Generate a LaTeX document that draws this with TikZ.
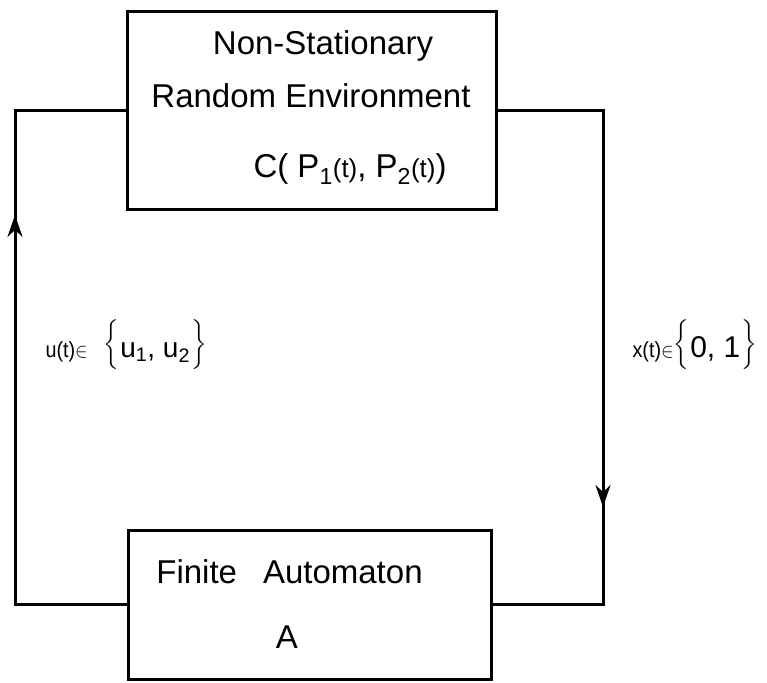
\documentclass[tikz,border=0pt]{standalone}
\usepackage{fontspec}
\setmainfont{Liberation Sans}
\usepackage{amsmath}
\usetikzlibrary{arrows.meta}
\newcommand\lbr{\raisebox{7pt}{$\left\{\rule[-21.5pt]{0pt}{54pt}\right.$}}
\newcommand\rbr{\raisebox{7pt}{$\left.\rule[-21.5pt]{0pt}{54pt}\right\}$}}
\begin{document}
\begin{tikzpicture}[x=1pt,y=-1pt,line width=3pt,
  box/.style={draw,rectangle,inner sep=0pt,line width=3pt},
  txt/.style={font=\fontsize{33}{38}\selectfont,inner sep=0pt,anchor=base},
  lbl/.style={font=\fontsize{22}{26}\selectfont,inner sep=0pt,anchor=base west},
  arr/.style={-{Stealth[length=22pt,width=15pt]}}]
\useasboundingbox (0,0) rectangle (767,682);
% boxes
\node[box,minimum width=369pt,minimum height=197pt] (env) at (311.5,110.5) {};
\node[box,minimum width=363pt,minimum height=149pt] (fa) at (309.5,604.5) {};
% texts
\node[txt] (t1) at (323,55) {Non-Stationary};
\node[txt] (t2) at (311,107) {Random Environment};
\node[txt,anchor=base west] (t3) at (252,177) {C( P\textsubscript{1}{\fontsize{26}{30}\selectfont(t)}, P\textsubscript{2}{\fontsize{26}{30}\selectfont(t)})};
\node[txt] (t4) at (289.5,583) {Finite\hspace{26pt}Automaton};
\node[txt] (t5) at (287,648) {A};
% corner coordinates
\coordinate (lt) at (15,110.5);
\coordinate (la) at (15,215);
\coordinate (rt) at (603,110.5);
\coordinate (ra) at (603,507);
% connectors
\draw (fa.west) -| (lt) -- (env.west);
\draw[arr] (fa.west) -| (la);
\draw (env.east) -| (rt) |- (fa.east);
\draw[arr] (rt) -- (ra);
% labels
\node[lbl] (ul) at (44,357) {\scalebox{0.9}[1]{u(t)$\in$}\hspace{16pt}\lbr{\fontsize{28}{30}\selectfont u\textsubscript{1}, u\textsubscript{2}}\rbr};
\node[lbl] (xl) at (631,357) {\scalebox{0.9}[1]{x(t)$\in$}\lbr{\fontsize{30}{30}\selectfont 0, 1}\rbr};
\end{tikzpicture}
\end{document}
